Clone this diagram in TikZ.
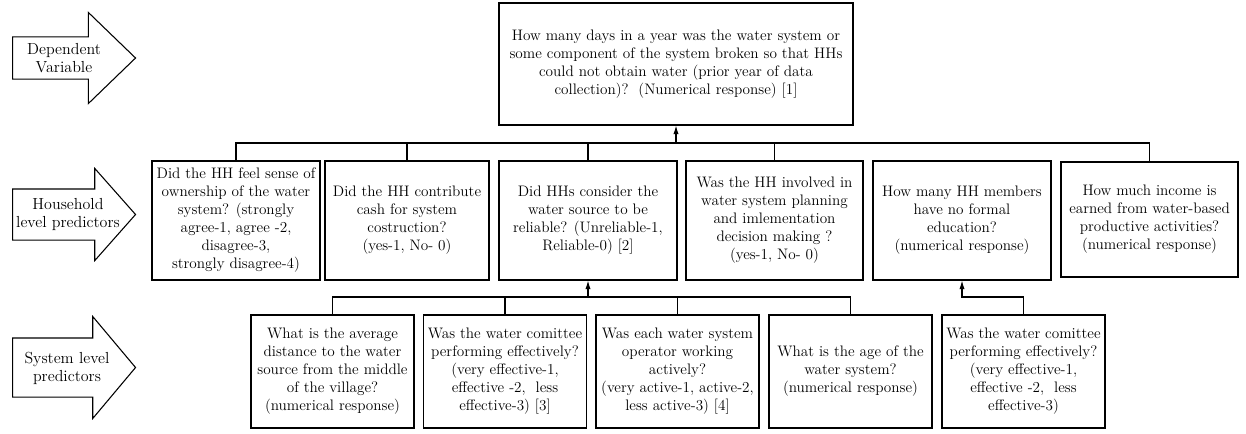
\documentclass[tikz,border=0pt]{standalone}
\usepackage{tikz}
\usetikzlibrary{arrows.meta}
\usetikzlibrary{positioning, shapes.arrows}
\tikzset{
question/.style = { rectangle, draw = black, fill = white, line width = 0.8pt, align = center, inner sep = 1pt, font = \fontsize{11.4}{13.5}\selectfont },
level arrow/.style = { single arrow, draw = black, fill = white, line width = 0.8pt, inner sep = 0pt, anchor = tail, minimum height = 92.25pt },
level text/.style = { align = center, inner sep = 0pt, font = \fontsize{12}{13.5}\selectfont },
link/.style = { draw = black, line width = 0.8pt },
}

\begin{document}
\begin{tikzpicture}[x=0.75pt, y=-0.75pt]
      \useasboundingbox (0,0) rectangle (1246,433);
      % level arrows on the left
      \node[level arrow, inner ysep = 15.4pt, single arrow head extend = 18.4pt, single arrow tip angle = 88] (deparrow) at (12,58) {};
      \node[level text] (deptext) at (64,58) {Dependent\\Variable};
      \node[level arrow, inner ysep = 18.75pt, single arrow head extend = 15.4pt, single arrow tip angle = 97] (hharrow) at (12,214.5) {};
      \node[level text] (hhtext) at (68,214.5) {Household\\level predictors};
      \node[level arrow, inner ysep = 21.75pt, single arrow head extend = 16.1pt, single arrow tip angle = 100] (sysarrow) at (12,367.5) {};
      \node[level text] (systext) at (67,368) {System level\\predictors};
      % dependent variable
      \node[question, minimum width = 265.5pt, minimum height = 91.5pt] (dv) at (676,64) {How many days in a year was the water system or\\some component of the system broken so that HHs\\could not obtain water (prior year of data\\collection)?~~(Numerical response) [1]};
      % household level predictors
      \begin{scope}[every node/.style={question, minimum height = 89.25pt}]
        \node[minimum width = 126pt] (hh1) at (236,220.5) {Did the HH feel sense of\\ownership of the water\\system? (strongly\\agree-1, agree -2,\\disagree-3,\\strongly disagree-4)};
        \node[minimum width = 123pt] (hh2) at (407,220.5) {Did the HH contribute\\cash for system\\costruction?\\(yes-1, No- 0)};
        \node[minimum width = 133.5pt] (hh3) at (588,220.5) {Did HHs consider the\\water source to be\\reliable? (Unreliable-1,\\Reliable-0) [2]};
        \node[minimum width = 132.75pt] (hh4) at (774.5,220.5) {Was the HH involved in\\water system planning\\and imlementation\\decision making ?\\(yes-1, No- 0)};
        \node[minimum width = 133.5pt] (hh5) at (962,220.5) {How many HH members\\have no formal\\education?\\(numerical response)};
        \node[minimum width = 132.75pt, minimum height = 86.25pt] (hh6) at (1149.5,219.5) {How much income is\\earned from water-based\\productive activities?\\(numerical response)};
      \end{scope}
      % system level predictors
      \begin{scope}[every node/.style={question, minimum width = 122.25pt, minimum height = 84.75pt}]
        \node (sys1) at (332.5,371.5) {What is the average\\distance to the water\\source from the middle\\of the village?\\(numerical response)};
        \node (sys2) at (505,371.5) {Was the water comittee\\performing effectively?\\(very effective-1,\\effective -2,~~less\\effective-3) [3]};
        \node (sys3) at (677.5,371.5) {Was each water system\\operator working\\actively?\\(very active-1, active-2,\\less active-3) [4]};
        \node (sys4) at (850.5,371.5) {What is the age of the\\water system?\\(numerical response)};
        \node (sys5) at (1023.5,371.5) {Was the water comittee\\performing effectively?\\(very effective-1,\\effective -2,~~less\\effective-3)};
      \end{scope}
      % connectors
      \coordinate (hhbus) at (676,143);
      \coordinate (sysbus) at (588,297);
      \begin{scope}[>={Latex[length=6.5pt, width=4pt]}, every path/.style={link}]
        \draw (hh1.north) |- (hhbus) -| (hh6.north);
        \draw (hh2.north) -- (hh2.north |- hhbus);
        \draw (hh3.north) -- (hh3.north |- hhbus);
        \draw (hh4.north) -- (hh4.north |- hhbus);
        \draw [->] (hhbus) -- (dv.south);
        \draw (sys1.north) |- (sysbus) -| (sys4.north);
        \draw (sys2.north) -- (sys2.north |- sysbus);
        \draw (sys3.north) -- (sys3.north |- sysbus);
        \draw [->] (sysbus) -- (hh3.south);
        \draw [->] (sys5.north) -- (sys5.north |- sysbus) -| (hh5.south);
      \end{scope}
    \end{tikzpicture}
\end{document}
